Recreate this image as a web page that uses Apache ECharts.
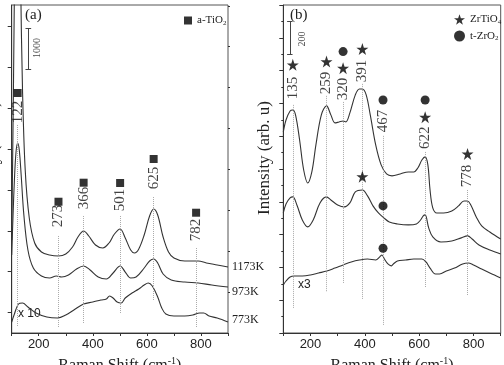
<!DOCTYPE html>
<html><head><meta charset="utf-8">
<script src="https://cdn.jsdelivr.net/npm/echarts@6/dist/echarts.min.js"></script>
<style>html,body{margin:0;padding:0;background:#fff}#c{width:504px;height:365px}</style>
</head><body><div id="c"></div>
<script>
// ---------- DATA ----------
// Panel (a): Raman shift (cm-1) vs intensity (arb. u)
const a1173K = [[100,2274],[106,5697],[112,9609],[118,12543],[122,13032],[127,11809],[133,8631],[140,5941],[150,3985],[165,2812],[185,2201],[210,1980],[240,1907],[273,1883],[300,1932],[325,2103],[345,2347],[366,2494],[385,2372],[410,2152],[437,2078],[460,2201],[480,2421],[501,2543],[520,2323],[540,2029],[554,1956],[570,2054],[590,2396],[610,2861],[625,3032],[640,2885],[660,2347],[680,1980],[700,1834],[740,1760],[790,1760],[820,1712],[860,1663],[900,1614]];
const a973K = [[100,1907],[105,2885],[110,3741],[116,4425],[122,4646],[128,4474],[135,3863],[145,2885],[160,2029],[180,1589],[210,1394],[240,1345],[265,1394],[285,1369],[310,1418],[340,1565],[366,1638],[390,1540],[420,1369],[450,1320],[475,1467],[501,1638],[520,1491],[540,1345],[560,1369],[590,1589],[610,1760],[625,1809],[640,1712],[660,1443],[690,1296],[740,1247],[790,1223],[840,1174],[900,1125]];
const a773K = [[100,269],[110,465],[125,709],[140,733],[160,636],[190,489],[230,391],[270,367],[300,440],[330,562],[366,709],[400,758],[430,807],[450,831],[462,905],[475,856],[490,758],[505,734],[520,856],[545,978],[570,1076],[590,1174],[605,1223],[620,1149],[640,880],[655,611],[670,465],[700,416],[740,416],[770,440],[795,489],[810,489],[830,416],[860,367],[900,269]];
// Panel (b)
const b1173K = [[100,1226],[110,1299],[125,1354],[135,1360],[145,1330],[160,1177],[175,994],[190,915],[205,982],[220,1147],[240,1330],[259,1385],[275,1330],[290,1281],[305,1287],[320,1293],[330,1287],[345,1342],[365,1452],[380,1488],[391,1488],[405,1452],[420,1330],[440,1147],[460,1025],[480,970],[500,958],[530,970],[560,982],[580,982],[595,1006],[610,1055],[622,1074],[632,1025],[640,872],[650,763],[665,732],[690,732],[720,744],[745,775],[765,805],[778,805],[790,781],[810,708],[830,653],[860,616],[900,573]];
const b973K = [[100,732],[110,787],[125,824],[135,830],[150,781],[170,689],[190,647],[210,689],[235,793],[259,830],[275,811],[300,781],[325,769],[345,793],[365,860],[391,872],[410,836],[430,775],[450,732],[470,702],[490,677],[520,665],[560,659],[590,665],[605,689],[615,714],[622,720],[635,641],[650,586],[680,555],[720,561],[755,580],[778,592],[795,573],[820,537],[860,506],[900,482]];
const b773K = [[100,293],[110,317],[125,342],[140,348],[170,348],[200,354],[230,366],[260,378],[290,396],[320,415],[350,433],[380,445],[410,451],[440,445],[455,464],[463,476],[472,451],[485,421],[497,409],[505,421],[520,439],[550,445],[580,451],[610,451],[625,433],[640,396],[660,360],[675,360],[700,378],[730,396],[760,421],[780,427],[800,415],[830,390],[860,366],[900,336]];

// Peak annotations, panel (a)
const peaksA = [122, 273, 366, 501, 625, 782];
const peaksA_label = [5403, 2861, 3301, 3252, 3790, 2518];
const peaksA_lineTop = [5086, 2372, 2861, 2861, 3325, 2078];
const peaksA_lineBottom = [147, 147, 245, 489, 807, 147];
const squaresA = [[122,5868],[273,3210],[366,3675],[501,3668],[625,4254],[782,2941]];
// Peak annotations, panel (b)
const peaksB = [135, 259, 320, 391, 467, 622, 778];
const peaksB_label = [1494, 1525, 1488, 1598, 1293, 1190, 958];
const peaksB_lineTop = [1391, 1446, 1409, 1519, 1202, 1104, 872];
const peaksB_lineBottom = [152, 250, 305, 201, 49, 281, 232];
const starsB = [[135,1635],[259,1655],[320,1615],[391,1731],[391,953],[622,1316],[778,1092]];
const circlesB = [[320,1716],[467,1421],[467,775],[467,517],[622,1421]];
// Scale bars
const scaleA = {x: 161, y0: 6450, y1: 7450, capL: 151, capR: 172, text: '1000', tx: 195, ty: 6968};
const scaleB = {x: 124, y0: 1700, y1: 1900, capL: 114, capR: 134, text: '200', tx: 171, ty: 1793};
const tempLabels = ['1173K', '973K', '773K'];
const xTicks = [200, 400, 600, 800];

// ---------- STYLE ----------
const SERIF = '"Liberation Serif", "Times New Roman", serif';
const SANS = '"Liberation Sans", Arial, sans-serif';
const STAR = 'path://M50 0 L61.8 34.5 L97.6 34.5 L68.5 55.9 L79.4 90.5 L50 69.1 L20.6 90.5 L31.5 55.9 L2.4 34.5 L38.2 34.5 Z';
const curveColor = '#333';
const axisColor = '#333';

function guideLines(peaks, tops, bottoms) {
  return peaks.map((p, i) => [{coord: [p, tops[i]]}, {coord: [p, bottoms[i]]}]);
}
function scaleBar(s) {
  const st = {type: 'solid', color: '#444', width: 1};
  return [
    [{coord: [s.x, s.y0], lineStyle: st}, {coord: [s.x, s.y1]}],
    [{coord: [s.capL, s.y0], lineStyle: st}, {coord: [s.capR, s.y0]}],
    [{coord: [s.capL, s.y1], lineStyle: st}, {coord: [s.capR, s.y1]}]
  ];
}
function xAxisCfg(gi) {
  return {
    type: 'value', gridIndex: gi, min: 100, max: 900, interval: 100,
    axisLine: {show: true, lineStyle: {color: axisColor, width: 1}},
    axisTick: {show: true, inside: false, length: 3, lineStyle: {color: axisColor}},
    axisLabel: {show: true, margin: 5, color: '#222', fontFamily: SANS, fontSize: 13,
      formatter: v => xTicks.includes(v) ? String(v) : ''},
    splitLine: {show: false},
    name: '{t|Raman Shift (cm}{s|-1}{t|)}', nameLocation: 'middle', nameGap: 21,
    nameTextStyle: {rich: {t: {fontFamily: SERIF, fontSize: 16, color: '#222'},
      s: {fontFamily: SERIF, fontSize: 10, color: '#222', padding: [0, 0, 9, 0]}}}
  };
}
const yName = {
  name: 'Intensity (arb. u)', nameLocation: 'middle', nameGap: 10,
  nameTextStyle: {fontFamily: SERIF, fontSize: 17, color: '#222', padding: [0, 0, 0, 22]}
};
const ticksMajorA = [], ticksMinorA = [];
for (let v = 500; v <= 7500; v += 1000) ticksMajorA.push(v);
for (let v = 1000; v <= 8000; v += 1000) ticksMinorA.push(v);

function lineSeries(name, data, xi, yi, endLbl, dy) {
  const s = {
    name, type: 'line', xAxisIndex: xi, yAxisIndex: yi, data,
    showSymbol: false, symbol: 'none', smooth: 0.35, clip: true,
    lineStyle: {color: curveColor, width: 1.1}, z: 3
  };
  if (endLbl) s.endLabel = {show: true, formatter: endLbl, distance: 4, offset: [0, dy || 0],
    fontFamily: SERIF, fontSize: 12, color: '#222'};
  return s;
}
function labelSeries(name, peaks, ys, s, xi, yi) {
  const d = peaks.map((p, i) => ({value: [p, ys[i]], name: String(p)}));
  d.push({value: [s.tx, s.ty], name: s.text, label: {fontSize: 10}});
  return {
    name, type: 'scatter', xAxisIndex: xi, yAxisIndex: yi, symbolSize: 0, data: d, silent: true, z: 4,
    label: {show: true, formatter: '{b}', position: 'inside', rotate: 90,
      fontFamily: SERIF, fontSize: 15, color: '#111'}
  };
}
const mlBase = {silent: true, symbol: ['none', 'none'], label: {show: false},
  lineStyle: {type: 'dotted', color: '#aaa', width: 1}, emphasis: {disabled: true}, animation: false};

const option = {
  animation: false,
  backgroundColor: '#fff',
  grid: [
    {left: 11.7, right: 276, top: 5, bottom: 32, show: true, borderColor: '#555', borderWidth: 1,
      containLabel: false, outerBoundsMode: 'none'},
    {left: 283.3, right: 3.3, top: 5, bottom: 32, show: true, borderColor: '#555', borderWidth: 1,
      containLabel: false, outerBoundsMode: 'none'}
  ],
  xAxis: [xAxisCfg(0), xAxisCfg(1)],
  yAxis: [
    Object.assign({type: 'value', gridIndex: 0, min: 0, max: 8020,
      axisLine: {show: true, lineStyle: {color: axisColor}},
      axisTick: {show: true, inside: false, length: 4, customValues: ticksMajorA, lineStyle: {color: axisColor}},
      axisLabel: {show: false}, splitLine: {show: false}}, yName),
    {type: 'value', gridIndex: 0, min: 0, max: 8020,
      axisLine: {show: false},
      axisTick: {show: true, inside: false, length: 2, customValues: ticksMinorA, lineStyle: {color: axisColor}},
      axisLabel: {show: false}, splitLine: {show: false}},
    Object.assign({type: 'value', gridIndex: 1, min: 0, max: 2000, interval: 200,
      axisLine: {show: true, lineStyle: {color: axisColor}},
      axisTick: {show: true, inside: false, length: 4, lineStyle: {color: axisColor}},
      minorTick: {show: true, splitNumber: 2, length: 2, lineStyle: {color: axisColor}},
      axisLabel: {show: false}, splitLine: {show: false}, minorSplitLine: {show: false}}, yName)
  ],
  legend: [
    {data: ['a-TiO2'], left: 179, top: 10, itemWidth: 8, itemHeight: 8, selectedMode: false,
      formatter: () => '{n|a-TiO}{s|2}',
      textStyle: {rich: {n: {fontFamily: SERIF, fontSize: 11, color: '#222'},
        s: {fontFamily: SERIF, fontSize: 7, color: '#222', padding: [5, 0, 0, 0]}}}},
    {data: ['ZrTiO4', 't-ZrO2'], orient: 'vertical', left: 449, top: 9, itemWidth: 11, itemHeight: 11,
      itemGap: 5, selectedMode: false,
      formatter: n => n === 'ZrTiO4' ? '{n|ZrTiO}{s|4}' : '{n|t-ZrO}{s|2}',
      textStyle: {rich: {n: {fontFamily: SERIF, fontSize: 11, color: '#222'},
        s: {fontFamily: SERIF, fontSize: 7, color: '#222', padding: [5, 0, 0, 0]}}}}
  ],
  graphic: [
    {type: 'text', left: 25, top: 8, style: {text: '(a)', font: '15px ' + SERIF, fill: '#222'}},
    {type: 'text', left: 290, top: 8, style: {text: '(b)', font: '15px ' + SERIF, fill: '#222'}},
    {type: 'text', left: 18, top: 308, style: {text: 'x 10', font: '12px ' + SANS, fill: '#222'}},
    {type: 'text', left: 298, top: 279, style: {text: 'x3', font: '12px ' + SANS, fill: '#222'}}
  ],
  series: [
    lineSeries('1173K (a)', a1173K, 0, 0, tempLabels[0], 0),
    lineSeries('973K (a)', a973K, 0, 0, tempLabels[1], 5),
    lineSeries('773K (a)', a773K, 0, 0, tempLabels[2], -2),
    lineSeries('1173K (b)', b1173K, 1, 2),
    lineSeries('973K (b)', b973K, 1, 2),
    lineSeries('773K (b)', b773K, 1, 2),
    {name: 'a-TiO2', type: 'scatter', xAxisIndex: 0, yAxisIndex: 0, symbol: 'rect', symbolSize: 8,
      itemStyle: {color: '#000'}, data: squaresA, z: 5,
      markLine: Object.assign({}, mlBase, {data: guideLines(peaksA, peaksA_lineTop, peaksA_lineBottom).concat(scaleBar(scaleA))})},
    labelSeries('labels a', peaksA, peaksA_label, scaleA, 0, 0),
    {name: 'ZrTiO4', type: 'scatter', xAxisIndex: 1, yAxisIndex: 2, symbol: STAR, symbolSize: 12,
      itemStyle: {color: '#000'}, data: starsB, z: 5,
      markLine: Object.assign({}, mlBase, {data: guideLines(peaksB, peaksB_lineTop, peaksB_lineBottom).concat(scaleBar(scaleB))})},
    {name: 't-ZrO2', type: 'scatter', xAxisIndex: 1, yAxisIndex: 2, symbol: 'circle', symbolSize: 9,
      itemStyle: {color: '#000'}, data: circlesB, z: 5},
    labelSeries('labels b', peaksB, peaksB_label, scaleB, 1, 2)
  ]
};
const chart = echarts.init(document.getElementById('c'), null, {renderer: 'canvas'});
chart.setOption(option);
</script></body></html>
